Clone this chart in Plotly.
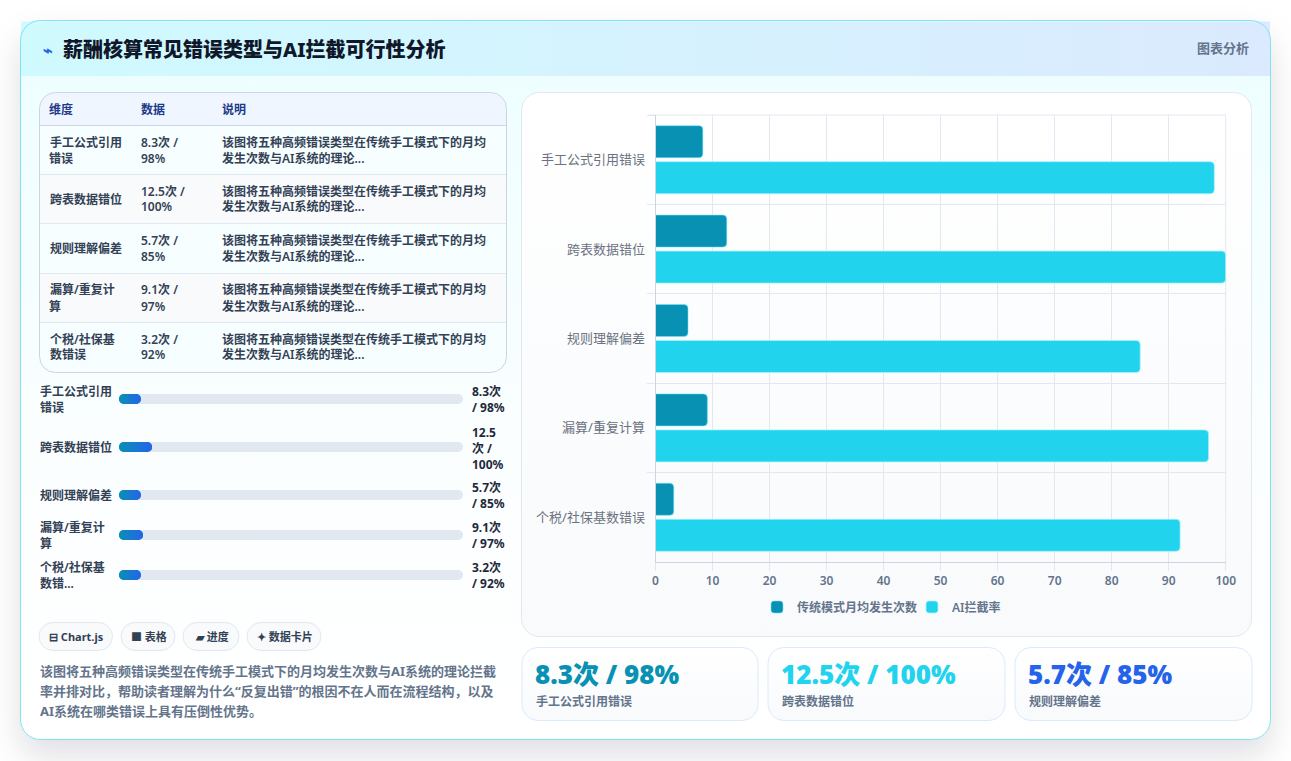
import base64
import plotly.graph_objects as go

# ---- chart data ----
categories = ["手工公式引用错误", "跨表数据错位", "规则理解偏差", "漏算/重复计算", "个税/社保基数错误"]
monthly_counts = [8.3, 12.5, 5.7, 9.1, 3.2]
intercept_rates = [98, 100, 85, 97, 92]
x_ticks = [0, 10, 20, 30, 40, 50, 60, 70, 80, 90, 100]
series_names = ["传统模式月均发生次数", "AI拦截率"]

# ---- wrapped text for the table and the progress list ----
table_headers = ["维度", "数据", "说明"]
table_category_lines = [["手工公式引用", "错误"], ["跨表数据错位"], ["规则理解偏差"],
                        ["漏算/重复计", "算"], ["个税/社保基", "数错误"]]
table_value_lines = [["8.3次 /", "98%"], ["12.5次 /", "100%"], ["5.7次 /", "85%"],
                     ["9.1次 /", "97%"], ["3.2次 /", "92%"]]
table_note_lines = ["该图将五种高频错误类型在传统手工模式下的月均", "发生次数与AI系统的理论..."]
progress_label_lines = [["手工公式引用", "错误"], ["跨表数据错位"], ["规则理解偏差"],
                        ["漏算/重复计", "算"], ["个税/社保基", "数错..."]]
progress_value_lines = [["8.3次", "/ 98%"], ["12.5", "次 /", "100%"], ["5.7次", "/ 85%"],
                        ["9.1次", "/ 97%"], ["3.2次", "/ 92%"]]
progress_scale_max = 130
progress_min_fill = 8.3
pill_labels = ["⊟ Chart.js", "■ 表格", "▰ 进度", "✦ 数据卡片"]
summary_lines = ["该图将五种高频错误类型在传统手工模式下的月均发生次数与AI系统的理论拦截",
                 "率并排对比，帮助读者理解为什么“反复出错”的根因不在人而在流程结构，以及",
                 "AI系统在哪类错误上具有压倒性优势。"]
stat_colors = ["#0891b2", "#22d3ee", "#2563eb"]

# ---- page geometry ----
W, H = 1291, 761
FONT = "Noto Sans, Noto Sans CJK SC, sans-serif"
table_row_ys = [150, 199, 248.5, 298, 347]
progress_row_ys = [399, 447, 495, 535, 575]
progress_rows_top, progress_rows_bottom = 385, 595
track_left, track_right = 119, 463
pill_spans = [(39, 112.5), (121, 175), (183, 239), (247, 321)]
stat_spans = [(522, 758), (768, 1005), (1015, 1252)]
plot_left, plot_right, plot_top, plot_bottom = 655.5, 1225.7, 115, 562


def px_x(x):
    return x / W


def px_y(y):
    return 1 - y / H


def data_uri(svg):
    return "data:image/svg+xml;base64," + base64.b64encode(svg.encode("utf-8")).decode("ascii")


def rounded(x0, y0, x1, y1, r, fill, stroke, extra=""):
    return (f'<rect x="{x0}" y="{y0}" width="{x1 - x0}" height="{y1 - y0}" rx="{r}" ry="{r}" '
            f'fill="{fill}" stroke="{stroke}" stroke-width="1" {extra}/>')


# Card, header, panels and table frame painted as one backdrop
table_lines = "".join(
    f'<line x1="40" x2="506" y1="{y}" y2="{y}" stroke="#e2e8f0"/>' for y in (174.5, 223.5, 273.5, 322.5)
)
pill_rects = "".join(rounded(a, 622.5, b, 650.5, 14, "#f8fafc", "#e2e8f0") for a, b in pill_spans)
stat_rects = "".join(rounded(a, 647.5, b, 720.5, 16, "url(#panel)", "#dbeafe") for a, b in stat_spans)
backdrop = f'''<svg xmlns="http://www.w3.org/2000/svg" width="{W}" height="{H}" viewBox="0 0 {W} {H}">
<defs>
<linearGradient id="head" x1="0" x2="1" y1="0" y2="0"><stop offset="0" stop-color="#cffafe"/><stop offset="1" stop-color="#dbeafe"/></linearGradient>
<linearGradient id="card" x1="0" x2="0" y1="0" y2="1"><stop offset="0" stop-color="#ecfeff"/><stop offset="0.6" stop-color="#fbfeff"/><stop offset="1" stop-color="#ffffff"/></linearGradient>
<linearGradient id="panel" x1="0" x2="0" y1="0" y2="1"><stop offset="0" stop-color="#ffffff"/><stop offset="1" stop-color="#f8fafc"/></linearGradient>
<filter id="shadow" x="-10%" y="-10%" width="120%" height="125%"><feDropShadow dx="0" dy="16" stdDeviation="16" flood-color="#0f172a" flood-opacity="0.13"/></filter>
<clipPath id="tableclip"><rect x="39.5" y="92.5" width="467" height="280" rx="16" ry="16"/></clipPath>
</defs>
<rect width="{W}" height="{H}" fill="#ffffff"/>
{rounded(20.5, 20.5, 1270.5, 739.5, 20, "url(#card)", "none", 'filter="url(#shadow)"')}
<rect x="21" y="21.5" width="1249" height="54.5" fill="url(#head)"/>
{rounded(20.5, 20.5, 1270.5, 739.5, 20, "none", "#7fe3f0")}
<g clip-path="url(#tableclip)">
<rect x="39" y="92" width="468" height="33" fill="#eff6ff"/>
<rect x="39" y="125" width="468" height="50" fill="#f6feff"/>
<rect x="39" y="175" width="468" height="49" fill="#f8fafc"/>
<rect x="39" y="224" width="468" height="49" fill="#f6feff"/>
<rect x="39" y="273" width="468" height="50" fill="#f8fafc"/>
<rect x="39" y="323" width="468" height="50" fill="#f6feff"/>
</g>
<line x1="40" x2="506" y1="125.5" y2="125.5" stroke="#cbd5e1"/>
{table_lines}
{rounded(39.5, 92.5, 506.5, 372.5, 16, "none", "#cbd5e1")}
{rounded(521.5, 92.5, 1251.5, 636.5, 18, "url(#panel)", "#e2e8f0")}
{pill_rects}
{stat_rects}
</svg>'''

images = [dict(source=data_uri(backdrop), xref="paper", yref="paper", x=0, y=1, sizex=1, sizey=1,
               xanchor="left", yanchor="top", sizing="stretch", layer="below")]

fig = go.Figure()

# Grouped horizontal bars: monthly counts and interception rates
fig.add_trace(go.Bar(
    y=categories, x=monthly_counts, name=series_names[0], orientation="h",
    marker=dict(color="#0891b2", cornerradius=4, line=dict(color="rgba(103,232,249,0.55)", width=1)),
    xaxis="x", yaxis="y",
))
fig.add_trace(go.Bar(
    y=categories, x=intercept_rates, name=series_names[1], orientation="h",
    marker=dict(color="#22d3ee", cornerradius=4, line=dict(color="rgba(165,243,252,0.7)", width=1)),
    xaxis="x", yaxis="y",
))

# Progress list: each pill is two overlapping bars, so both ends come out round
track_half = progress_scale_max / 2
track_overlap = 4
n_rows = len(progress_row_ys)
for delta in (track_half + track_overlap, -(track_half + track_overlap)):
    start = track_half - track_overlap if delta > 0 else track_half + track_overlap
    fig.add_trace(go.Bar(
        y=progress_row_ys, x=[delta] * n_rows, base=[start] * n_rows, width=10, offset=-5, orientation="h",
        marker=dict(color="#e2e8f0", cornerradius=5, line=dict(width=0)),
        xaxis="x2", yaxis="y2", showlegend=False, hoverinfo="skip",
    ))
fill_values = [max(v, progress_min_fill) for v in monthly_counts]
for sign in (1, -1):
    fig.add_trace(go.Bar(
        y=progress_row_ys, x=[sign * v / 2 for v in fill_values], base=[v / 2 for v in fill_values],
        width=10, offset=-5, orientation="h",
        marker=dict(color="#1679cf", cornerradius=5, line=dict(width=0)),
        xaxis="x2", yaxis="y2", showlegend=False, hoverinfo="skip",
    ))

# Gradient skin over each progress fill, sized in axis units
track_px = track_right - track_left
for row_y, value in zip(progress_row_ys, fill_values):
    w = value / progress_scale_max * track_px
    pill = (f'<svg xmlns="http://www.w3.org/2000/svg" width="{w:.2f}" height="10" viewBox="0 0 {w:.2f} 10" '
            f'preserveAspectRatio="none"><defs><linearGradient id="g"><stop offset="0" stop-color="#0891b2"/>'
            f'<stop offset="1" stop-color="#2563eb"/></linearGradient></defs>'
            f'<rect width="{w:.2f}" height="10" rx="5" ry="5" fill="url(#g)"/></svg>')
    images.append(dict(source=data_uri(pill), xref="x2", yref="y2", x=0, y=row_y - 5, sizex=value, sizey=10,
                       xanchor="left", yanchor="top", sizing="stretch", layer="above"))

annotations = []
# Annotation boxes carry inner padding; compensate so text starts on the given column
ANCHOR_SHIFT = {"left": -1.5, "right": 1, "center": 0}


def text(x, y, s, size=12, color="#334155", weight=600, anchor="left"):
    annotations.append(dict(
        xref="paper", yref="paper", x=px_x(x + ANCHOR_SHIFT[anchor]), y=px_y(y), text=s, showarrow=False,
        xanchor=anchor, yanchor="middle", align=anchor,
        font=dict(family=FONT, size=size, color=color, weight=weight),
    ))


def block(x, center_y, lines, line_height=16, **kw):
    top = center_y - line_height * (len(lines) - 1) / 2
    for i, line in enumerate(lines):
        text(x, top + i * line_height, line, **kw)


# Header
text(42, 50, "⌁", size=16, color="#2563eb", weight=700)
text(62, 49.5, "薪酬核算常见错误类型与AI拦截可行性分析", size=20, color="#0f172a", weight=800)
text(1250, 48, "图表分析", size=13, color="#64748b", weight=600, anchor="right")

# Table
for x, head in zip((49, 140, 221), table_headers):
    text(x, 109.5, head, color="#1e3a8a", weight=700)
for row_y, cat, val in zip(table_row_ys, table_category_lines, table_value_lines):
    block(49, row_y, cat)
    block(140, row_y, val)
    block(221, row_y, table_note_lines)

# Progress list labels
for row_y, label, val in zip(progress_row_ys, progress_label_lines, progress_value_lines):
    block(39, row_y, label)
    block(471, row_y + (1 if len(val) == 3 else 0), val, color="#1e293b", weight=700)

# Pills and summary
for (a, b), label in zip(pill_spans, pill_labels):
    text((a + b) / 2 + 0.5, 636.5, label, size=11, color="#334155", weight=700, anchor="center")
block(39, 691, summary_lines, line_height=20, size=13, color="#64748b", weight=700)

# Stat cards show the first three categories
for (a, _), color, cat, cnt, rate in zip(stat_spans, stat_colors, categories, monthly_counts, intercept_rates):
    text(a + 12.5, 674, f"{cnt}次 / {rate}%", size=26, color=color, weight=900)
    text(a + 13, 701, cat, size=12, color="#64748b", weight=600)

# Top and right edges of the plot frame
frame_shapes = [
    dict(type="line", xref="paper", yref="paper", x0=px_x(648), x1=px_x(plot_right),
         y0=px_y(plot_top), y1=px_y(plot_top), line=dict(color="#e2e8f0", width=1), layer="below"),
    dict(type="line", xref="paper", yref="paper", x0=px_x(plot_right), x1=px_x(plot_right),
         y0=px_y(plot_top), y1=px_y(plot_bottom), line=dict(color="#e2e8f0", width=1), layer="below"),
]

fig.update_layout(
    width=W, height=H, autosize=False,
    margin=dict(l=0, r=0, t=0, b=0, pad=0, autoexpand=False),
    paper_bgcolor="rgba(0,0,0,0)", plot_bgcolor="rgba(0,0,0,0)",
    font=dict(family=FONT),
    barmode="group", bargap=0.195, bargroupgap=0.111,
    images=images,
    annotations=annotations,
    shapes=frame_shapes,
    xaxis=dict(
        domain=[px_x(plot_left), px_x(plot_right)], range=[0, 100], tickmode="array", tickvals=x_ticks,
        showgrid=True, gridcolor="#e2e8f0", gridwidth=1, zeroline=False,
        showline=True, linecolor="#cbd5e1", linewidth=1,
        ticks="outside", ticklen=8, tickcolor="#e2e8f0", tickwidth=1,
        tickfont=dict(family=FONT, size=12, color="#64748b", weight=600), anchor="y",
    ),
    yaxis=dict(
        domain=[px_y(plot_bottom), px_y(plot_top)], autorange="reversed", type="category",
        tickson="boundaries", showgrid=True, gridcolor="#e2e8f0", gridwidth=1,
        showline=True, linecolor="#cbd5e1", linewidth=1, zeroline=False,
        ticks="outside", ticklen=8, tickcolor="#e2e8f0", tickwidth=1,
        ticklabelstandoff=7,
        tickfont=dict(family=FONT, size=13, color="#6b7280", weight=400), anchor="x",
    ),
    xaxis2=dict(
        domain=[px_x(track_left), px_x(track_right)], range=[0, progress_scale_max],
        visible=False, anchor="y2", fixedrange=True,
    ),
    yaxis2=dict(
        domain=[px_y(progress_rows_bottom), px_y(progress_rows_top)],
        range=[progress_rows_bottom, progress_rows_top], visible=False, anchor="x2", fixedrange=True,
    ),
    legend=dict(
        orientation="h", x=px_x(757), y=px_y(607), xanchor="left", yanchor="middle",
        font=dict(family=FONT, size=12, color="#64748b", weight=600),
        entrywidth=110, entrywidthmode="pixels", traceorder="normal",
        bgcolor="rgba(0,0,0,0)",
    ),
)

fig.write_html("out.html", config=dict(displayModeBar=False))
